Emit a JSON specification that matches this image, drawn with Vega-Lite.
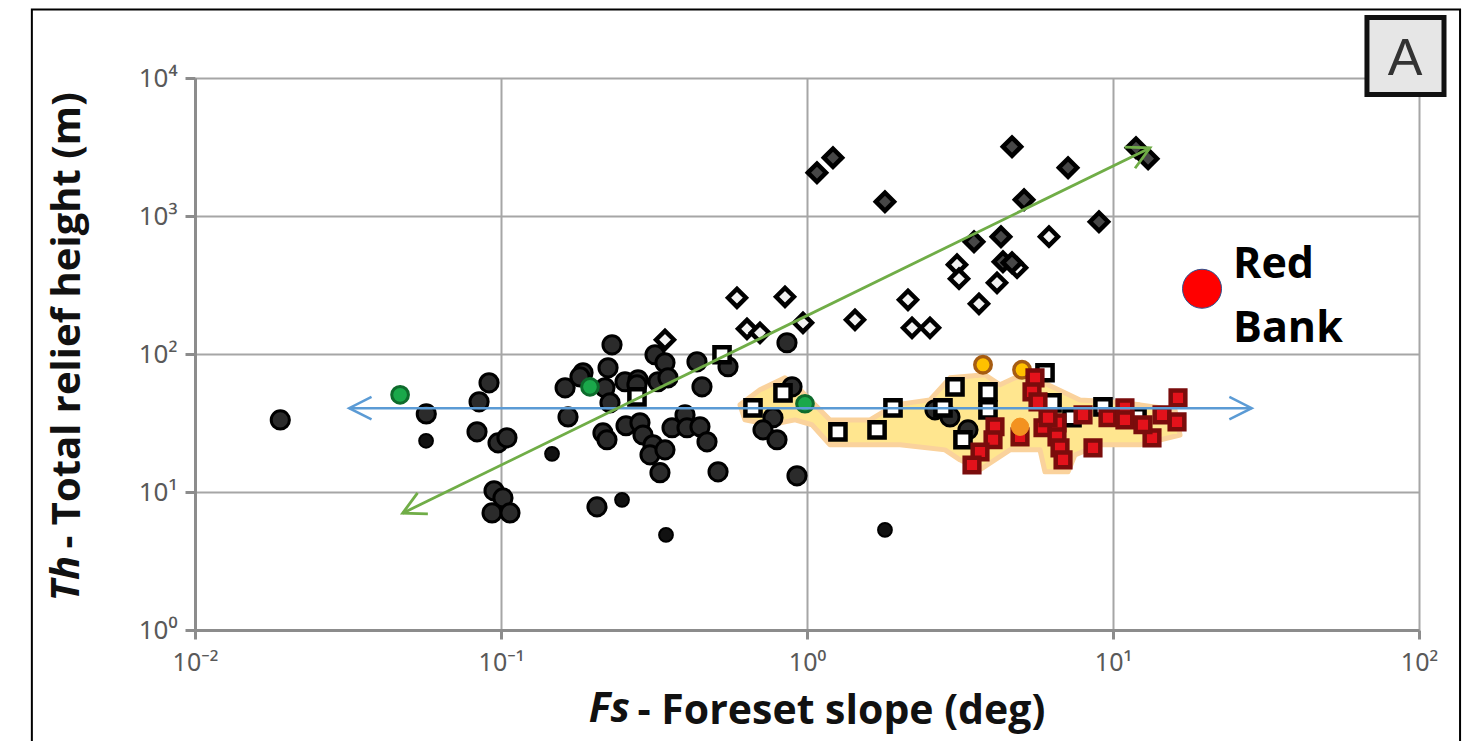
{
  "$schema": "https://vega.github.io/schema/vega-lite/v6.json",
  "width": 1224,
  "height": 552,
  "autosize": {"type": "none"},
  "padding": {"left": 195, "top": 78, "right": 50, "bottom": 111},
  "background": "white",
  "config": {"view": {"stroke": null}},
  "datasets": {
    "frame": [{"x": 0.00293, "x2": 136.2, "y": 31330, "y2": 0.114}],
    "poly": [
      {"i": 1, "x": 0.604, "y": 42.8}, {"i": 2, "x": 0.702, "y": 55.0}, {"i": 3, "x": 0.847, "y": 67.2},
      {"i": 4, "x": 0.949, "y": 55.0}, {"i": 5, "x": 1.038, "y": 45.0}, {"i": 6, "x": 1.189, "y": 33.3},
      {"i": 7, "x": 1.607, "y": 33.3}, {"i": 8, "x": 1.939, "y": 42.8}, {"i": 9, "x": 2.523, "y": 46.5},
      {"i": 10, "x": 2.933, "y": 67.2}, {"i": 11, "x": 3.816, "y": 70.7}, {"i": 12, "x": 4.272, "y": 59.8},
      {"i": 13, "x": 4.784, "y": 67.2}, {"i": 14, "x": 5.356, "y": 70.7}, {"i": 15, "x": 6.132, "y": 59.8},
      {"i": 16, "x": 7.801, "y": 46.5}, {"i": 17, "x": 9.78, "y": 45.0}, {"i": 18, "x": 12.25, "y": 42.8},
      {"i": 19, "x": 15.94, "y": 39.4}, {"i": 20, "x": 16.56, "y": 25.9}, {"i": 21, "x": 12.25, "y": 22.0},
      {"i": 22, "x": 9.07, "y": 22.0}, {"i": 23, "x": 7.513, "y": 18.6}, {"i": 24, "x": 7.13, "y": 14.0},
      {"i": 25, "x": 5.995, "y": 14.0}, {"i": 26, "x": 5.774, "y": 20.2}, {"i": 27, "x": 4.607, "y": 20.2},
      {"i": 28, "x": 3.676, "y": 14.5}, {"i": 29, "x": 3.162, "y": 17.1}, {"i": 30, "x": 2.825, "y": 20.2},
      {"i": 31, "x": 2.013, "y": 22.0}, {"i": 32, "x": 1.189, "y": 22.0}, {"i": 33, "x": 1.038, "y": 30.7},
      {"i": 34, "x": 0.914, "y": 33.3}, {"i": 35, "x": 0.757, "y": 30.7}, {"i": 36, "x": 0.627, "y": 33.3}
    ],
    "black": [
      {"x": 0.019, "y": 33.3}, {"x": 0.057, "y": 36.8}, {"x": 0.0914, "y": 61.8}, {"x": 0.0848, "y": 45.0},
      {"x": 0.0835, "y": 27.3}, {"x": 0.0978, "y": 22.7}, {"x": 0.1046, "y": 24.7}, {"x": 0.0949, "y": 10.2},
      {"x": 0.1015, "y": 9.06}, {"x": 0.0935, "y": 7.05}, {"x": 0.107, "y": 7.05}, {"x": 0.2306, "y": 116.6},
      {"x": 0.162, "y": 56.9}, {"x": 0.1656, "y": 35.0}, {"x": 0.1854, "y": 73.1}, {"x": 0.2238, "y": 79.4},
      {"x": 0.2187, "y": 56.9}, {"x": 0.2543, "y": 62.9}, {"x": 0.2271, "y": 44.3}, {"x": 0.2804, "y": 65.0},
      {"x": 0.3187, "y": 98.7}, {"x": 0.3435, "y": 86.4}, {"x": 0.3259, "y": 62.9}, {"x": 0.3514, "y": 67.2},
      {"x": 0.437, "y": 87.8}, {"x": 0.552, "y": 80.8}, {"x": 0.4538, "y": 57.8}, {"x": 0.2154, "y": 26.8},
      {"x": 0.222, "y": 23.9}, {"x": 0.2562, "y": 30.2}, {"x": 0.2846, "y": 31.7}, {"x": 0.2911, "y": 25.9},
      {"x": 0.3139, "y": 22.0}, {"x": 0.3069, "y": 18.6}, {"x": 0.3308, "y": 13.8}, {"x": 0.3435, "y": 20.2},
      {"x": 0.3622, "y": 29.2}, {"x": 0.3994, "y": 36.2}, {"x": 0.4054, "y": 29.2}, {"x": 0.447, "y": 29.7},
      {"x": 0.4713, "y": 23.1}, {"x": 0.5121, "y": 14.0}, {"x": 0.8602, "y": 120.6}, {"x": 0.8934, "y": 57.8},
      {"x": 0.7742, "y": 34.5}, {"x": 0.7182, "y": 28.2}, {"x": 0.798, "y": 23.9}, {"x": 0.9275, "y": 13.1},
      {"x": 0.2059, "y": 7.8}, {"x": 0.1812, "y": 68.3}, {"x": 0.2782, "y": 59.8}, {"x": 2.62, "y": 39.4},
      {"x": 2.933, "y": 35.0}, {"x": 3.358, "y": 28.2}
    ],
    "small": [
      {"x": 0.0569, "y": 23.5}, {"x": 0.1468, "y": 18.9}, {"x": 0.2486, "y": 8.77}, {"x": 0.3461, "y": 4.89}, {"x": 1.798, "y": 5.31}
    ],
    "green": [{"x": 0.0468, "y": 50.6}, {"x": 0.1953, "y": 57.8}, {"x": 0.985, "y": 43.6}],
    "dark_diamond": [
      {"x": 1.078, "y": 2061}, {"x": 1.216, "y": 2647}, {"x": 1.798, "y": 1270}, {"x": 4.677, "y": 3181},
      {"x": 7.13, "y": 2240}, {"x": 5.121, "y": 1313}, {"x": 9.0, "y": 909}, {"x": 11.89, "y": 3128},
      {"x": 13.02, "y": 2603}, {"x": 3.514, "y": 651}, {"x": 4.305, "y": 708}, {"x": 4.37, "y": 466}, {"x": 4.677, "y": 459}
    ],
    "white_diamond": [
      {"x": 0.5904, "y": 255.6}, {"x": 0.8474, "y": 259.9}, {"x": 0.6366, "y": 152.3}, {"x": 0.7021, "y": 142.5},
      {"x": 0.9703, "y": 168.4}, {"x": 1.435, "y": 177.0}, {"x": 0.3435, "y": 126.8}, {"x": 2.138, "y": 247.2},
      {"x": 2.204, "y": 154.9}, {"x": 2.523, "y": 154.9}, {"x": 3.092, "y": 443.6}, {"x": 3.139, "y": 351.0},
      {"x": 3.648, "y": 231.2}, {"x": 4.178, "y": 328.3}, {"x": 6.178, "y": 708}, {"x": 4.858, "y": 422}
    ],
    "hollow_square": [
      {"x": 0.5276, "y": 98.7}, {"x": 0.2782, "y": 48.9}, {"x": 0.8348, "y": 52.3}, {"x": 0.666, "y": 40.7},
      {"x": 1.262, "y": 27.3}, {"x": 1.694, "y": 28.2}, {"x": 1.91, "y": 40.7}, {"x": 3.045, "y": 57.8},
      {"x": 2.782, "y": 40.7}, {"x": 3.234, "y": 23.9}, {"x": 3.903, "y": 53.2}, {"x": 3.903, "y": 39.4},
      {"x": 5.995, "y": 73.1}, {"x": 6.32, "y": 44.3}, {"x": 7.345, "y": 34.5}, {"x": 9.275, "y": 41.4}, {"x": 11.98, "y": 35.0}
    ],
    "yellow": [{"x": 3.76, "y": 83.5}, {"x": 5.044, "y": 76.8}],
    "red_square": [
      {"x": 5.56, "y": 67.2}, {"x": 5.436, "y": 53.2}, {"x": 5.687, "y": 45.0}, {"x": 4.115, "y": 29.7},
      {"x": 4.054, "y": 23.9}, {"x": 3.676, "y": 19.5}, {"x": 3.461, "y": 15.7}, {"x": 4.968, "y": 25.1},
      {"x": 5.905, "y": 29.2}, {"x": 6.561, "y": 31.7}, {"x": 6.561, "y": 25.1}, {"x": 6.712, "y": 20.9},
      {"x": 6.866, "y": 17.1}, {"x": 6.132, "y": 34.5}, {"x": 7.98, "y": 36.2}, {"x": 8.602, "y": 20.9},
      {"x": 9.631, "y": 34.5}, {"x": 10.94, "y": 40.7}, {"x": 10.94, "y": 33.3}, {"x": 13.41, "y": 24.7},
      {"x": 14.46, "y": 36.2}, {"x": 16.19, "y": 32.2}, {"x": 16.31, "y": 48.1}, {"x": 12.53, "y": 30.7}
    ],
    "orange": [{"x": 4.968, "y": 29.7}],
    "blue_line": [{"x": 0.0319, "y": 40.5}, {"x": 28.4, "y": 40.5}],
    "green_line": [{"x": 0.0477, "y": 7.02}, {"x": 13.21, "y": 3113}],
    "redbank": [{"x": 19.54, "y": 297, "t": "Red\nBank", "tx": 24.67, "ty": 357}],
    "abox": [{"x": 67.6, "x2": 120.7, "y": 27400, "y2": 7578, "t": "A", "tx": 90.0, "ty": 10585}],
    "italic_x": [{"x": 0.264, "y": 0.2153, "t": "Fs"}],
    "italic_y": [{"x": 0.003817, "y": 3.44, "t": "Th"}]
  },
  "encoding": {
    "x": {
      "field": "x", "type": "quantitative",
      "scale": {"type": "log", "domain": [0.01, 100], "nice": false},
      "axis": {
        "title": "- Foreset slope (deg)",
        "values": [0.01, 0.1, 1, 10, 100],
        "labelExpr": "datum.value < 0.05 ? '10⁻²' : datum.value < 0.5 ? '10⁻¹' : datum.value < 5 ? '10⁰' : datum.value < 50 ? '10¹' : '10²'",
        "grid": true, "gridColor": "#a6a6a6", "gridWidth": 2,
        "domainColor": "#8c8c8c", "domainWidth": 3,
        "tickColor": "#8c8c8c", "tickWidth": 3, "tickSize": 9,
        "labelFont": "Noto Sans", "labelFontSize": 25, "labelColor": "#595959",
        "labelPadding": 11, "labelFlush": false, "labelOverlap": false,
        "titleFont": "Open Sans", "titleFontSize": 41, "titleFontWeight": "bold", "titleColor": "#111111",
        "titleX": 442, "titleY": 93, "titleAlign": "left", "titleBaseline": "alphabetic", "titleAnchor": null
      }
    },
    "y": {
      "field": "y", "type": "quantitative",
      "scale": {"type": "log", "domain": [1, 10000], "nice": false},
      "axis": {
        "title": "- Total relief height (m)",
        "values": [1, 10, 100, 1000, 10000],
        "labelExpr": "datum.value < 5 ? '10⁰' : datum.value < 50 ? '10¹' : datum.value < 500 ? '10²' : datum.value < 5000 ? '10³' : '10⁴'",
        "grid": true, "gridColor": "#a6a6a6", "gridWidth": 2,
        "domainColor": "#8c8c8c", "domainWidth": 3,
        "tickColor": "#8c8c8c", "tickWidth": 3, "tickSize": 10,
        "labelFont": "Noto Sans", "labelFontSize": 26, "labelColor": "#595959",
        "labelPadding": 8, "labelFlush": false, "labelOverlap": false, "labelBaseline": "middle",
        "titleFont": "Open Sans", "titleFontSize": 40, "titleFontWeight": "bold", "titleColor": "#111111",
        "titleAngle": 270, "titleX": -128, "titleY": 470, "titleAlign": "left", "titleBaseline": "middle", "titleAnchor": null
      }
    }
  },
  "layer": [
    {
      "data": {"name": "frame"},
      "mark": {"type": "rect", "filled": false, "stroke": "#000000", "strokeWidth": 2, "clip": false},
      "encoding": {"x2": {"field": "x2"}, "y2": {"field": "y2"}}
    },
    {
      "data": {"name": "poly"},
      "mark": {"type": "line", "interpolate": "linear-closed", "fill": "#ffe68f", "stroke": "#fad29c", "strokeWidth": 5, "strokeJoin": "round"},
      "encoding": {"order": {"field": "i", "type": "quantitative"}}
    },
    {
      "data": {"name": "black"},
      "mark": {"type": "point", "shape": "circle", "size": 330, "filled": true, "fill": "#2b2b2b", "stroke": "#000000", "strokeWidth": 3, "opacity": 1}
    },
    {
      "data": {"name": "small"},
      "mark": {"type": "point", "shape": "circle", "size": 190, "filled": true, "fill": "#111111", "stroke": "#000000", "strokeWidth": 2, "opacity": 1}
    },
    {
      "data": {"name": "white_diamond"},
      "mark": {"type": "point", "shape": "diamond", "size": 320, "filled": true, "fill": "#f2f2f2", "stroke": "#000000", "strokeWidth": 4.5, "opacity": 1}
    },
    {
      "data": {"name": "dark_diamond"},
      "mark": {"type": "point", "shape": "diamond", "size": 330, "filled": true, "fill": "#474747", "stroke": "#000000", "strokeWidth": 4.5, "opacity": 1}
    },
    {
      "data": {"name": "hollow_square"},
      "mark": {"type": "point", "shape": "square", "size": 230, "filled": true, "fill": "#ffffff", "stroke": "#000000", "strokeWidth": 4.5, "opacity": 1}
    },
    {
      "data": {"name": "green"},
      "mark": {"type": "point", "shape": "circle", "size": 280, "filled": true, "fill": "#1aa84a", "stroke": "#0e6b2c", "strokeWidth": 3, "opacity": 1}
    },
    {
      "data": {"name": "yellow"},
      "mark": {"type": "point", "shape": "circle", "size": 270, "filled": true, "fill": "#ffc000", "stroke": "#a65c12", "strokeWidth": 3.5, "opacity": 1}
    },
    {
      "data": {"name": "red_square"},
      "mark": {"type": "point", "shape": "square", "size": 215, "filled": true, "fill": "#e3121b", "stroke": "#7a0c0c", "strokeWidth": 4.5, "opacity": 1}
    },
    {
      "data": {"name": "orange"},
      "mark": {"type": "point", "shape": "circle", "size": 300, "filled": true, "fill": "#f39220", "stroke": "#f39220", "strokeWidth": 1, "opacity": 1}
    },
    {
      "data": {"name": "blue_line"},
      "mark": {"type": "line", "color": "#5b9bd5", "strokeWidth": 2.5},
      "encoding": {}
    },
    {
      "data": {"values": [{"x": 28.4, "y": 40.5}]},
      "mark": {"type": "point", "shape": "M-2,-1L0,0L-2,1", "size": 500, "filled": false, "stroke": "#5b9bd5", "strokeWidth": 2.5, "opacity": 1, "angle": 0}
    },
    {
      "data": {"values": [{"x": 0.0319, "y": 40.5}]},
      "mark": {"type": "point", "shape": "M-2,-1L0,0L-2,1", "size": 500, "filled": false, "stroke": "#5b9bd5", "strokeWidth": 2.5, "opacity": 1, "angle": 180}
    },
    {
      "data": {"name": "green_line"},
      "mark": {"type": "line", "color": "#70ad47", "strokeWidth": 2.8},
      "encoding": {}
    },
    {
      "data": {"values": [{"x": 13.21, "y": 3113}]},
      "mark": {"type": "point", "shape": "M-2,-1.05L0,0L-2,1.05", "size": 500, "filled": false, "stroke": "#70ad47", "strokeWidth": 2.8, "opacity": 1, "angle": 334}
    },
    {
      "data": {"values": [{"x": 0.0477, "y": 7.02}]},
      "mark": {"type": "point", "shape": "M-2,-1.05L0,0L-2,1.05", "size": 500, "filled": false, "stroke": "#70ad47", "strokeWidth": 2.8, "opacity": 1, "angle": 154}
    },
    {
      "data": {"name": "redbank"},
      "mark": {"type": "point", "shape": "circle", "size": 1520, "filled": true, "fill": "#ff0000", "stroke": "#2f528f", "strokeWidth": 1, "opacity": 1}
    },
    {
      "data": {"name": "redbank"},
      "mark": {"type": "text", "font": "Open Sans", "fontSize": 43, "fontWeight": "bold", "color": "#000000", "align": "left", "baseline": "alphabetic", "lineBreak": "\n", "lineHeight": 64},
      "encoding": {"x": {"field": "tx", "type": "quantitative"}, "y": {"field": "ty", "type": "quantitative"}, "text": {"field": "t"}}
    },
    {
      "data": {"name": "abox"},
      "mark": {"type": "rect", "fill": "#e6e6e6", "stroke": "#111111", "strokeWidth": 5},
      "encoding": {"x2": {"field": "x2"}, "y2": {"field": "y2"}}
    },
    {
      "data": {"name": "abox"},
      "mark": {"type": "text", "font": "Liberation Sans", "fontSize": 52, "color": "#333333", "align": "center", "baseline": "alphabetic"},
      "encoding": {"x": {"field": "tx", "type": "quantitative"}, "y": {"field": "ty", "type": "quantitative"}, "text": {"field": "t"}}
    },
    {
      "data": {"name": "italic_x"},
      "mark": {"type": "text", "font": "Open Sans", "fontSize": 41, "fontWeight": "bold", "fontStyle": "italic", "color": "#111111", "align": "right", "baseline": "alphabetic"},
      "encoding": {"text": {"field": "t"}}
    },
    {
      "data": {"name": "italic_y"},
      "mark": {"type": "text", "font": "Open Sans", "fontSize": 40, "fontWeight": "bold", "fontStyle": "italic", "color": "#111111", "align": "right", "baseline": "middle", "angle": 270},
      "encoding": {"text": {"field": "t"}}
    }
  ]
}
